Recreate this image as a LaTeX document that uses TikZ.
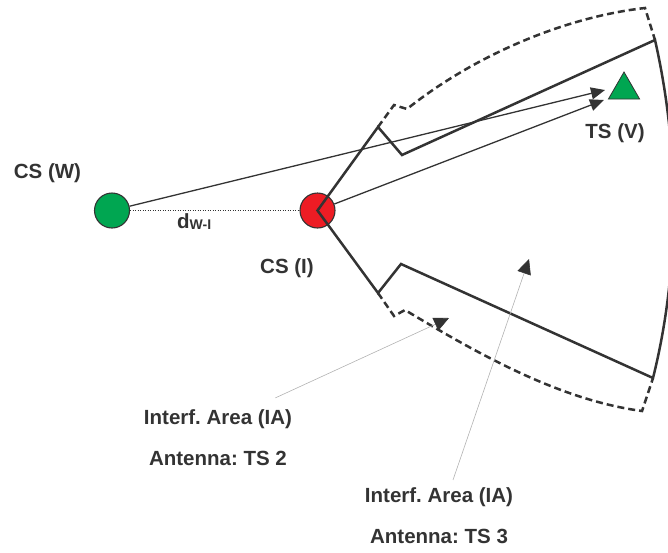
\documentclass[tikz,border=0pt]{standalone}
\usepackage{fontspec}
\setmainfont{Liberation Sans}
\usetikzlibrary{arrows.meta,shapes.geometric}
\definecolor{ink}{HTML}{333333}
\definecolor{csgreen}{HTML}{00A651}
\definecolor{csred}{HTML}{ED1C24}
\frenchspacing

\providecommand*{\csRadius}{}
\providecommand*{\lblSize}{}
\renewcommand*{\csRadius}{17.5pt}
\renewcommand*{\lblSize}{20.5}

\begin{document}
\begin{tikzpicture}[x=1pt,y=-1pt,
  lbl/.style={text=ink,font=\fontsize{\lblSize}{24}\selectfont\bfseries,inner sep=0pt,anchor=base},
  station/.style={circle,draw=ink,line width=1.1pt,minimum size=2*\csRadius,inner sep=0pt},
  sector/.style={ink,line width=2.5pt},
  lobe/.style={sector,dash pattern=on 7pt off 4pt},
  vec/.style={ink,line width=1.3pt,-{Triangle[length=14pt,width=12pt]}},
  pointer/.style={gray!60,line width=0.6pt,-{Triangle[length=15pt,width=14pt,color=ink]}}]
  \useasboundingbox (0,0) rectangle (668,552);
  \clip (0,0) rectangle (668,552);

  \node [station,fill=csgreen] (csw) at (112,210.5) {};
  \node [station,fill=csred] (csi) at (317.5,210.5) {};
  \node [regular polygon,regular polygon sides=3,minimum size=36pt,inner sep=0pt,
    draw=ink,line width=0.8pt,fill=csgreen] (tsv) at (624,90) {};

  \node [lbl] (cswname) at (47.5,178) {CS (W)};
  \node [lbl] (csiname) at (287,273) {CS (I)};
  \node [lbl] (tsvname) at (615,138) {TS (V)};
  \node [lbl,anchor=base west] (dwi) at (177,228)
    {d\raisebox{-1.5pt}{\fontsize{14}{14}\selectfont W-I}};

  \draw [sector] (csi.center) -- (378,127) -- (402,155) -- (655,40)
    .. controls (680,150) and (680,270) .. (653,378) -- (401,264) -- (378,293) -- cycle;
  \draw [lobe] (378,127) -- (394,105) -- (407,109)
    .. controls (475,55) and (565,17) .. (645,8) -- (655,40);
  \draw [lobe] (378,293) -- (394,316) -- (405,310)
    .. controls (480,355) and (560,400) .. (642,411) -- (653,378);

  \draw [ink,line width=1pt,dash pattern=on 1pt off 1.5pt] (csw) -- (csi);
  \coordinate (wtip) at (605,90);
  \coordinate (itip) at (604,100);
  \draw [vec] (csw) -- (wtip);
  \draw [vec] (csi) -- (itip);

  \foreach \ts/\xc/\yb in {2/218/424,3/439/502} {
    \node [lbl] (ia\ts) at (\xc,\yb) {Interf. Area (IA)};
    \node [lbl] (ant\ts) at (\xc,\yb+41.5) {Antenna: TS \ts};
  }
  \coordinate (ia2tip) at (449,318);
  \coordinate (ia3tip) at (529,259);
  \draw [pointer] ([shift={(-17,-11)}]ia2.north east) -- (ia2tip);
  \draw [pointer] ([shift={(14,-7)}]ia3.north) -- (ia3tip);
\end{tikzpicture}
\end{document}
